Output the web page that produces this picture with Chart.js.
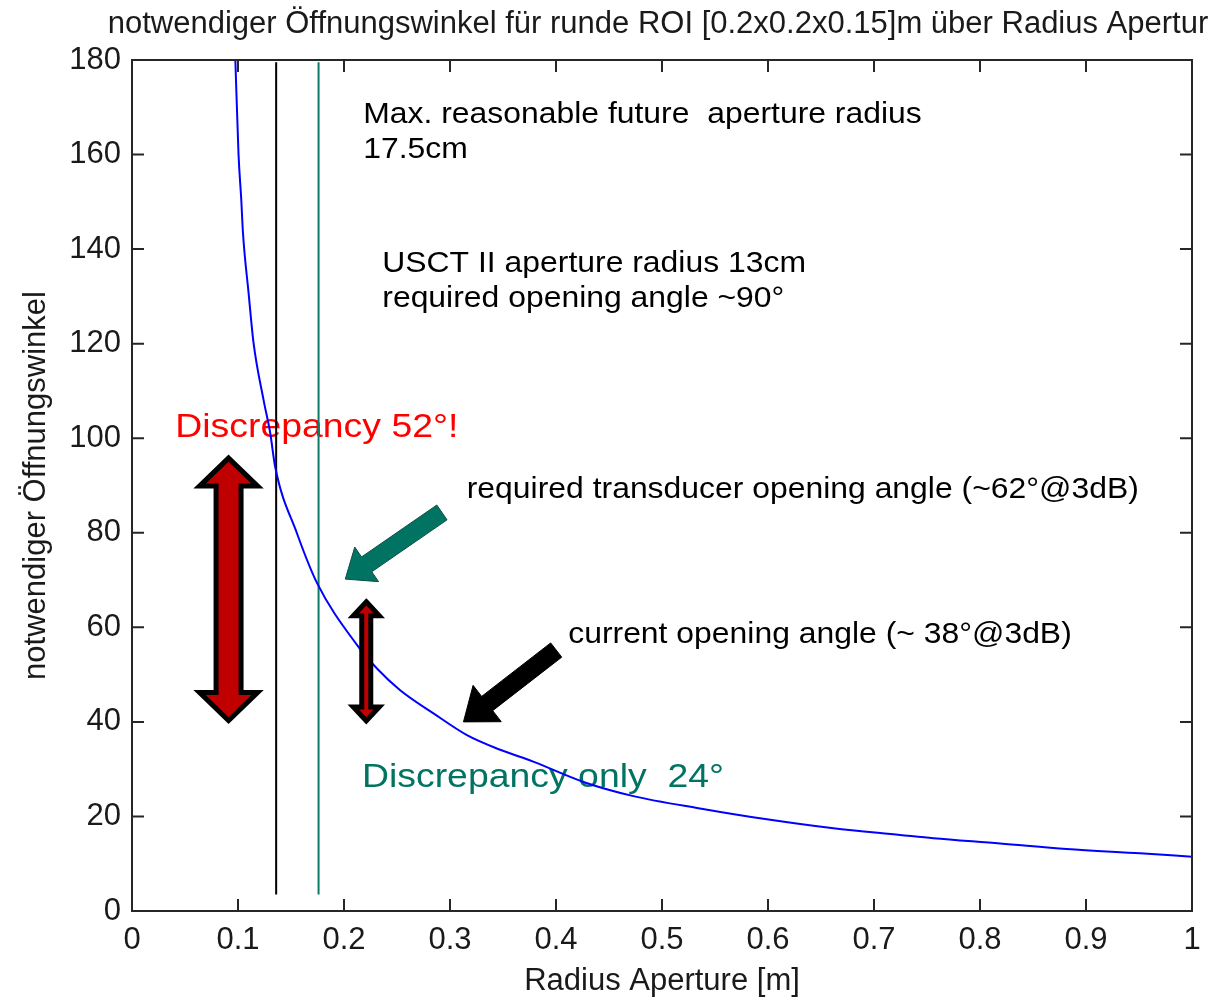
<!DOCTYPE html>
<html>
<head>
<meta charset="utf-8">
<title>notwendiger Öffnungswinkel</title>
<script src="https://cdn.jsdelivr.net/npm/chart.js@4.4.1/dist/chart.umd.min.js"></script>
<style>
  html, body { margin: 0; padding: 0; background: #fff; }
</style>
</head>
<body>
<canvas id="chart" width="1229" height="1000"></canvas>
<script>
// Öffnungswinkel [deg] über Radius der Apertur [m]
const radius = [0.0975, 0.1005, 0.1031, 0.1047, 0.110, 0.1147, 0.1241, 0.1304, 0.1351, 0.1556,
                0.1745, 0.2122, 0.2311, 0.253, 0.2844, 0.316, 0.3474, 0.3785, 0.4259, 0.4731,
                0.5358, 0.5989, 0.6617, 0.7246, 0.756, 0.819, 0.8818, 0.951, 1.0];
const angle = [180, 160, 150.4, 143.4, 130.7, 120.1, 108.1, 101.1, 93.9, 79.9,
               69.4, 56.3, 51.3, 46.7, 41.8, 37.2, 34.1, 31.6, 27.3, 24.3,
               21.7, 19.4, 17.5, 16.1, 15.4, 14.3, 13.1, 12.2, 11.5];

// USCT II Apertur (schwarz) und max. sinnvolle Apertur (grün)
const apertureRadii = [0.136, 0.176];
const apertureSpan = [3.5, 179.5];

const xTicks = [0, 0.1, 0.2, 0.3, 0.4, 0.5, 0.6, 0.7, 0.8, 0.9, 1];
const yTicks = [0, 20, 40, 60, 80, 100, 120, 140, 160, 180];

const titleText = 'notwendiger Öffnungswinkel für runde ROI [0.2x0.2x0.15]m über Radius Apertur';

const FONT = '"Liberation Sans", Arial, sans-serif';
const TEAL = '#007362';

function vline(r) {
    return apertureSpan.map(v => ({ x: r, y: v }));
}

function note(ctx, text, x, y, size, color) {
    ctx.save();
    ctx.translate(x, y);
    ctx.scale(1.1, 1);
    ctx.font = size + 'px ' + FONT;
    ctx.fillStyle = color;
    ctx.textBaseline = 'alphabetic';
    ctx.textAlign = 'left';
    ctx.fillText(text, 0, 0);
    ctx.restore();
}

function doubleArrow(ctx, cx, yTop, yBot, headHalf, shaftHalf, headLen) {
    ctx.beginPath();
    ctx.moveTo(cx, yTop);
    ctx.lineTo(cx + headHalf, yTop + headLen);
    ctx.lineTo(cx + shaftHalf, yTop + headLen);
    ctx.lineTo(cx + shaftHalf, yBot - headLen);
    ctx.lineTo(cx + headHalf, yBot - headLen);
    ctx.lineTo(cx, yBot);
    ctx.lineTo(cx - headHalf, yBot - headLen);
    ctx.lineTo(cx - shaftHalf, yBot - headLen);
    ctx.lineTo(cx - shaftHalf, yTop + headLen);
    ctx.lineTo(cx - headHalf, yTop + headLen);
    ctx.closePath();
    ctx.fillStyle = '#c00000';
    ctx.fill();
    ctx.lineWidth = 5;
    ctx.lineJoin = 'miter';
    ctx.strokeStyle = '#000';
    ctx.stroke();
}

function arrow(ctx, tx, ty, hx, hy, shaftHalf, headHalf, headLen, fill, stroke) {
    const len = Math.hypot(hx - tx, hy - ty);
    const ux = (hx - tx) / len, uy = (hy - ty) / len;
    const nx = -uy, ny = ux;
    const bx = hx - ux * headLen, by = hy - uy * headLen;
    ctx.beginPath();
    ctx.moveTo(tx + nx * shaftHalf, ty + ny * shaftHalf);
    ctx.lineTo(bx + nx * shaftHalf, by + ny * shaftHalf);
    ctx.lineTo(bx + nx * headHalf, by + ny * headHalf);
    ctx.lineTo(hx, hy);
    ctx.lineTo(bx - nx * headHalf, by - ny * headHalf);
    ctx.lineTo(bx - nx * shaftHalf, by - ny * shaftHalf);
    ctx.lineTo(tx - nx * shaftHalf, ty - ny * shaftHalf);
    ctx.closePath();
    ctx.fillStyle = fill;
    ctx.fill();
    ctx.lineWidth = 1;
    ctx.strokeStyle = stroke;
    ctx.stroke();
}

// Titel und Beschriftungen im Diagramm
const notes = {
    id: 'notes',
    beforeDatasetsDraw(chart) {
        const { ctx, scales: { x, y } } = chart;
        ctx.save();
        ctx.font = '31px ' + FONT;
        ctx.fillStyle = '#1a1a1a';
        ctx.textAlign = 'center';
        ctx.textBaseline = 'alphabetic';
        ctx.fillText(titleText, 658, 33);
        ctx.restore();

        const px = v => x.getPixelForValue(v);
        const py = v => y.getPixelForValue(v);
        note(ctx, 'Max. reasonable future  aperture radius', px(0.2181), py(166.7), 29, '#000');
        note(ctx, '17.5cm', px(0.2181), py(159.3), 29, '#000');
        note(ctx, 'USCT II aperture radius 13cm', px(0.2361), py(135.2), 29, '#000');
        note(ctx, 'required opening angle ~90°', px(0.2361), py(127.8), 29, '#000');
        note(ctx, 'Discrepancy 52°!', px(0.0408), py(100.3), 34, '#ff0000');
        note(ctx, 'required transducer opening angle (~62°@3dB)', px(0.3158), py(87.4), 29, '#000');
        note(ctx, 'current opening angle (~ 38°@3dB)', px(0.4115), py(56.7), 29, '#000');
        note(ctx, 'Discrepancy only  24°', px(0.2169), py(26.2), 34, TEAL);
    },
    afterDatasetsDraw(chart) {
        const { ctx, chartArea: a, scales: { x, y } } = chart;
        const px = v => x.getPixelForValue(v);
        const py = v => y.getPixelForValue(v);

        ctx.save();
        doubleArrow(ctx, px(0.0911), py(95.8), py(40.3), 29, 12.5, 28);
        doubleArrow(ctx, px(0.221), py(65.4), py(40.2), 13, 4.5, 14);
        arrow(ctx, px(0.2924), py(84.3), px(0.2012), py(70.2), 9, 21, 26, TEAL, '#0b4f44');
        arrow(ctx, px(0.4002), py(55.2), px(0.3127), py(40.0), 9, 23, 30, '#000', '#000');
        ctx.restore();

        // Achsenrahmen mit Ticks nach innen auf allen Seiten
        ctx.save();
        ctx.strokeStyle = '#262626';
        ctx.lineWidth = 2;
        ctx.strokeRect(a.left, a.top, a.right - a.left, a.bottom - a.top);
        ctx.beginPath();
        x.ticks.forEach(t => {
            const p = x.getPixelForValue(t.value);
            ctx.moveTo(p, a.bottom); ctx.lineTo(p, a.bottom - 12);
            ctx.moveTo(p, a.top); ctx.lineTo(p, a.top + 12);
        });
        y.ticks.forEach(t => {
            const p = y.getPixelForValue(t.value);
            ctx.moveTo(a.left, p); ctx.lineTo(a.left + 12, p);
            ctx.moveTo(a.right, p); ctx.lineTo(a.right - 12, p);
        });
        ctx.stroke();
        ctx.restore();
    }
};

new Chart(document.getElementById('chart'), {
    type: 'scatter',
    data: {
        datasets: [
            {
                label: 'Öffnungswinkel',
                data: radius.map((r, i) => ({ x: r, y: angle[i] })),
                showLine: true,
                borderColor: '#0000ff',
                borderWidth: 2,
                pointRadius: 0,
                cubicInterpolationMode: 'monotone'
            },
            {
                label: 'USCT II',
                data: vline(apertureRadii[0]),
                showLine: true,
                borderColor: '#000000',
                borderWidth: 2,
                pointRadius: 0
            },
            {
                label: 'max. Apertur',
                data: vline(apertureRadii[1]),
                showLine: true,
                borderColor: '#0b7a66',
                borderWidth: 2,
                pointRadius: 0
            }
        ]
    },
    options: {
        responsive: false,
        animation: false,
        devicePixelRatio: 1,
        layout: { padding: { top: 60, right: 37, left: 0, bottom: 0 } },
        plugins: {
            legend: { display: false },
            tooltip: { enabled: false }
        },
        scales: {
            x: {
                type: 'linear',
                min: 0,
                max: 1,
                afterBuildTicks: s => { s.ticks = xTicks.map(v => ({ value: v })); },
                afterFit: s => { s.height = 89; },
                grid: { display: false, drawTicks: false },
                border: { display: false },
                ticks: {
                    padding: 11,
                    color: '#1a1a1a',
                    font: { family: FONT, size: 31 },
                    callback: v => (v === 0 || v === 1) ? String(v) : v.toFixed(1)
                },
                title: {
                    display: true,
                    text: 'Radius Aperture [m]',
                    color: '#1a1a1a',
                    font: { family: FONT, size: 31 },
                    padding: { top: 0, bottom: 0 }
                }
            },
            y: {
                type: 'linear',
                min: 0,
                max: 180,
                afterBuildTicks: s => { s.ticks = yTicks.map(v => ({ value: v })); },
                afterFit: s => { s.width = 132; },
                grid: { display: false, drawTicks: false },
                border: { display: false },
                ticks: {
                    padding: 11,
                    color: '#1a1a1a',
                    font: { family: FONT, size: 31 }
                },
                title: {
                    display: true,
                    text: 'notwendiger Öffnungswinkel',
                    color: '#1a1a1a',
                    font: { family: FONT, size: 31 },
                    padding: { top: 18, bottom: 0 }
                }
            }
        }
    },
    plugins: [notes]
});
</script>
</body>
</html>
